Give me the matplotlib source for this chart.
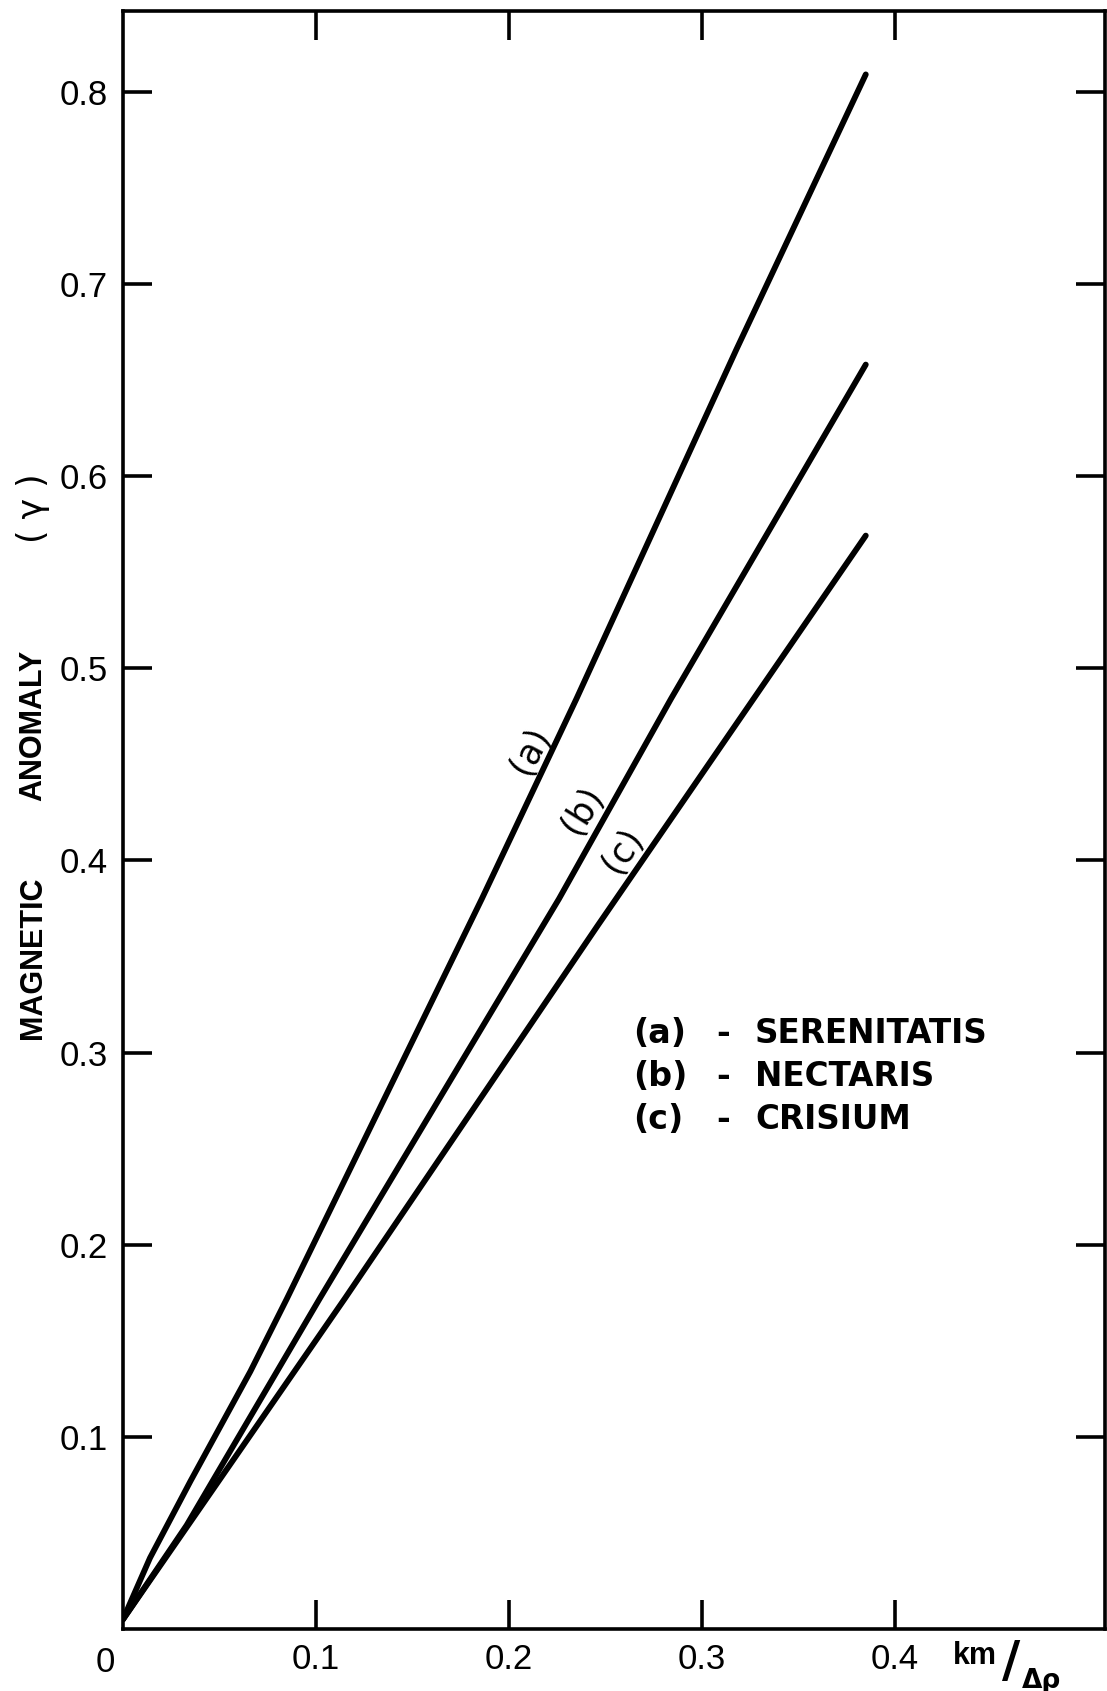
import numpy as np
import matplotlib.pyplot as plt

# 字体设置
plt.rcParams['font.family'] = ['Liberation Sans', 'DejaVu Sans']

# 三条曲线的数据 (km/Δρ , γ)
xa = [0.0, 0.014, 0.035, 0.066, 0.085, 0.186, 0.235, 0.318, 0.385]
ya = [0.005, 0.037, 0.077, 0.134, 0.172, 0.380, 0.484, 0.666, 0.809]
xb = [0.0, 0.033, 0.102, 0.226, 0.284, 0.385]
yb = [0.005, 0.054, 0.172, 0.380, 0.484, 0.658]
xc = [0.0, 0.115, 0.246, 0.385]
yc = [0.005, 0.172, 0.366, 0.569]

curve_tags = ['(a)', '(b)', '(c)']
curve_names = ['SERENITATIS', 'NECTARIS', 'CRISIUM']
tag_x = [0.211, 0.238, 0.259]
tag_y = [0.457, 0.426, 0.405]
tag_rot = [62, 58, 56]

xticks = [0.1, 0.2, 0.3, 0.4]
xtick_labels = ['0.1', '0.2', '0.3', '0.4']
yticks = [0.1, 0.2, 0.3, 0.4, 0.5, 0.6, 0.7, 0.8]
ytick_labels = ['0.1', '0.2', '0.3', '0.4', '0.5', '0.6', '0.7', '0.8']

W, H = 1107, 1691
fig = plt.figure(figsize=(W / 100, H / 100), dpi=100)

# 像素 -> 图形坐标
def fx(px):
    return px / W

def fy(py):
    return 1 - py / H

ax = fig.add_axes([fx(123), fy(1629), fx(1105) - fx(123), fy(11) - fy(1629)])

# 绘制曲线
for xs, ys in [(xa, ya), (xb, yb), (xc, yc)]:
    ax.plot(xs, ys, color='black', linewidth=4.2, solid_capstyle='round', solid_joinstyle='round')

ax.set_xlim(0, 0.509)
ax.set_ylim(0, 0.842)

# 边框和刻度
for s in ax.spines.values():
    s.set_linewidth(2.6)
ax.set_xticks(xticks)
ax.set_xticklabels(xtick_labels)
ax.set_yticks(yticks)
ax.set_yticklabels(ytick_labels)
ax.tick_params(direction='in', length=21, width=2.6, top=True, right=True,
               labelsize=25)
ax.tick_params(axis='x', pad=10)
ax.tick_params(axis='y', pad=11)

# 曲线标注
for t, x, y, r in zip(curve_tags, tag_x, tag_y, tag_rot):
    ax.text(x, y, t, rotation=r, rotation_mode='anchor', ha='center', va='center',
            fontsize=25, family='DejaVu Sans')

# 图例文字
rows_y = [1043, 1086, 1129]
for t, name, py in zip(curve_tags, curve_names, rows_y):
    fig.text(fx(633), fy(py), t, fontsize=24, family='DejaVu Sans', fontweight='bold',
             ha='left', va='baseline')
    fig.text(fx(723), fy(py), '-', fontsize=24, family='DejaVu Sans', fontweight='bold',
             ha='center', va='baseline')
    fig.text(fx(755), fy(py), name, fontsize=23.5, family='DejaVu Sans', fontweight='bold',
             ha='left', va='baseline')

# 纵轴标题
fig.text(fx(33), fy(958), 'MAGNETIC', rotation=90, ha='center', va='center',
         fontsize=22, fontweight='bold')
fig.text(fx(33), fy(725), 'ANOMALY', rotation=90, ha='center', va='center',
         fontsize=22, fontweight='bold')
fig.text(fx(33), fy(508), '( γ )', rotation=90, ha='center', va='center',
         fontsize=25, family='DejaVu Sans')

# 原点和横轴单位
fig.text(fx(105), fy(1662), '0', ha='center', va='center', fontsize=25)
fig.text(fx(975), fy(1664), 'km', ha='center', va='baseline', fontsize=22,
         fontweight='bold')
fig.text(fx(1011), fy(1662), '/', ha='center', va='center', fontsize=36,
         family='DejaVu Sans', fontweight='bold')
fig.text(fx(1042), fy(1688), 'Δρ', ha='center', va='baseline', fontsize=19,
         fontweight='bold', family='DejaVu Sans')

fig.savefig('out.png', dpi=100)
